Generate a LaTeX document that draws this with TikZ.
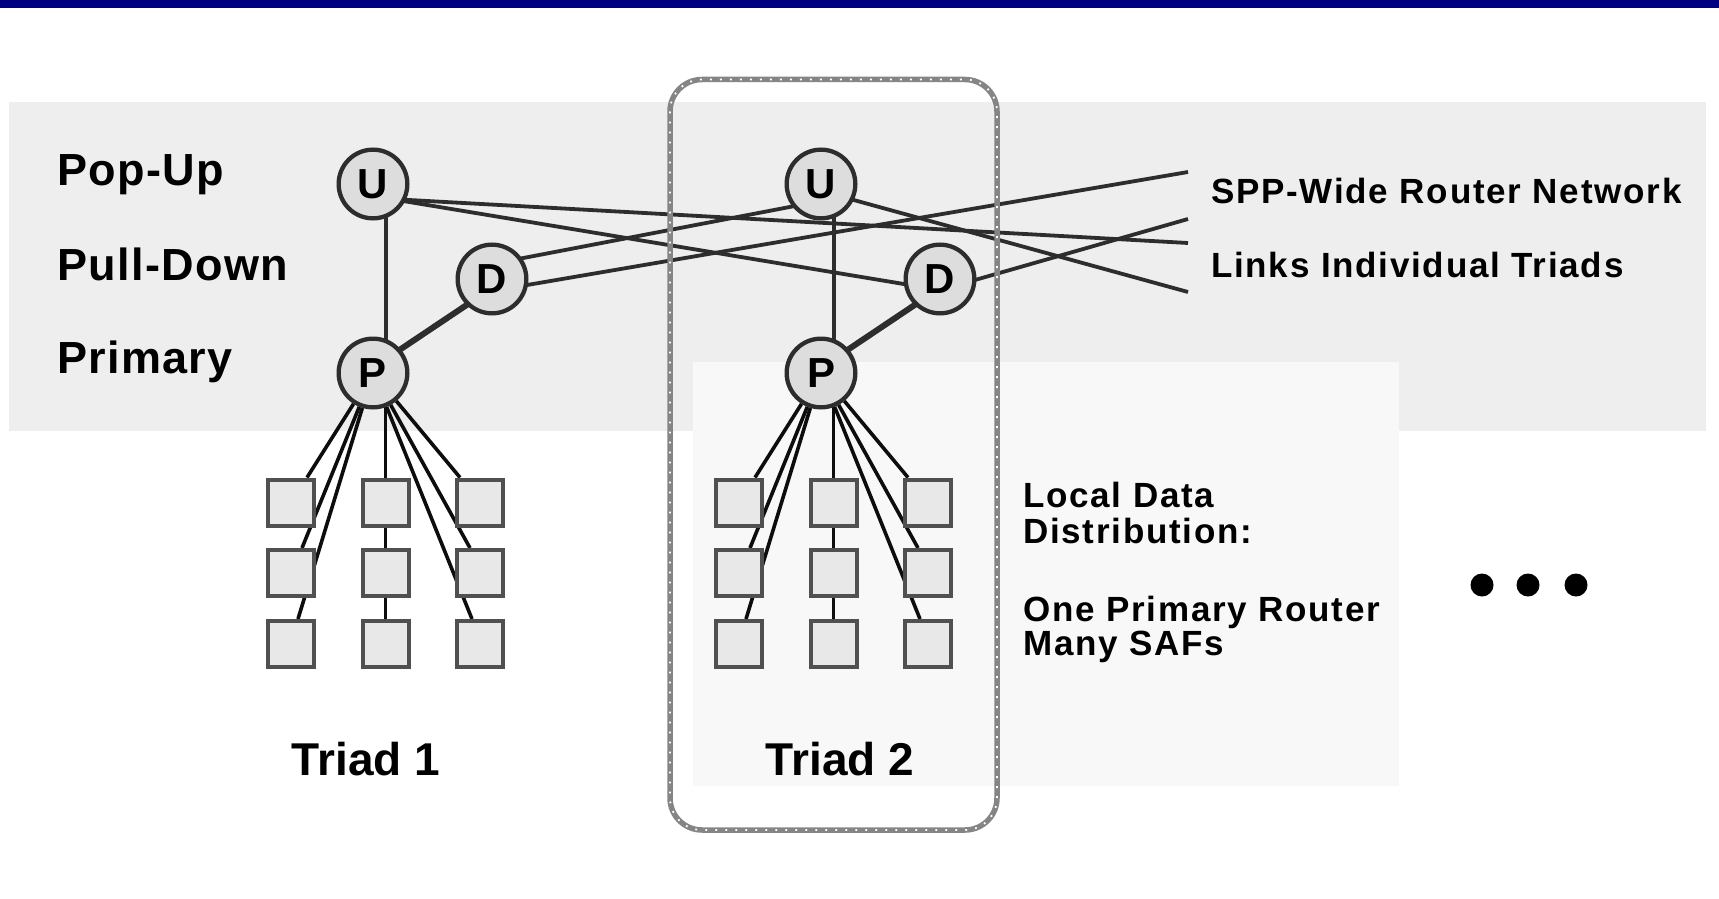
\documentclass[tikz,border=0pt]{standalone}
\usepackage{fontspec}
\setmainfont{Liberation Sans}
\newfontfamily\spacedfont[LetterSpace=5]{Liberation Sans}
\newfontfamily\labfont[LetterSpace=3]{Liberation Sans}
\usetikzlibrary{calc}
\pgfdeclarelayer{bg}
\pgfdeclarelayer{edges}
\pgfsetlayers{bg,edges,main}

\definecolor{navybar}{RGB}{0,0,128}
\definecolor{bandgray}{RGB}{238,238,238}
\definecolor{lightbox}{RGB}{248,248,248}
\definecolor{circfill}{RGB}{221,221,221}
\definecolor{sqfill}{RGB}{232,232,232}
\definecolor{sqgray}{RGB}{80,80,80}
\definecolor{edgecol}{RGB}{45,45,45}
\definecolor{dashgray}{RGB}{133,133,133}

\tikzset{
  router/.style={circle, draw=edgecol, line width=4.3pt, fill=circfill,
    minimum size=68.7pt, inner sep=0pt, font=\bfseries\fontsize{42}{42}\selectfont},
  saf/.style={rectangle, draw=sqgray, line width=4pt, fill=sqfill,
    minimum size=46pt, inner sep=0pt},
  netlink/.style={draw=edgecol, line width=3.8pt},
  uplink/.style={draw=edgecol, line width=4.6pt},
  dplink/.style={draw=edgecol, line width=6pt},
  saflink/.style={draw=black!95, line width=3.6pt},
  layerlabel/.style={anchor=base west, inner sep=0pt, font=\labfont\bfseries\fontsize{45}{45}\selectfont},
  sidetext/.style={anchor=base west, inner sep=0pt, font=\spacedfont\bfseries\fontsize{35}{35}\selectfont},
  triadlabel/.style={anchor=base, inner sep=0pt, font=\bfseries\fontsize{46}{46}\selectfont},
  dashframe/.style={draw=dashgray, line width=5.5pt, rounded corners=32pt},
  dashdots/.style={draw=white, line width=1.8pt, dash pattern=on 1.8pt off 8.2pt, rounded corners=32pt}
}

\newcommand\drawtriad[2]{%
  \node[router] (U#1) at (373+#2,184) {U};
  \node[router] (D#1) at (492+#2,279) {D};
  \node[router] (P#1) at (373+#2,373) {P};
  \node[saf] (sq#111) at (291+#2,502.5) {};
  \node[saf] (sq#112) at (291+#2,573) {};
  \node[saf] (sq#113) at (291+#2,644) {};
  \node[saf] (sq#121) at (385.5+#2,502.5) {};
  \node[saf] (sq#122) at (385.5+#2,573) {};
  \node[saf] (sq#123) at (385.5+#2,644) {};
  \node[saf] (sq#131) at (480+#2,502.5) {};
  \node[saf] (sq#132) at (480+#2,573) {};
  \node[saf] (sq#133) at (480+#2,644) {};
  \begin{pgfonlayer}{edges}
    \draw[uplink] ($(U#1)+(13,0)$) -- ($(P#1)+(13,0)$);
    \draw[dplink] ($(P#1)+(13,-14)$) -- ($(D#1)+(0,9)$);
    \draw[saflink] (P#1) -- ($(sq#111.north)+(16,0)$);
    \draw[saflink] (P#1) -- ($(sq#112.north)+(11,0)$);
    \draw[saflink] (P#1) -- ($(sq#113.north)+(7,0)$);
    \draw[saflink] (P#1) -- ($(sq#131.north)+(-20,0)$);
    \draw[saflink] (P#1) -- ($(sq#132.north)+(-10,0)$);
    \draw[saflink] (P#1) -- ($(sq#133.north)+(-8,0)$);
    \draw[saflink] (sq#121.north) -- (sq#121.north |- P#1);
    \draw[saflink] (sq#121.south) -- (sq#122.north);
    \draw[saflink] (sq#122.south) -- (sq#123.north);
  \end{pgfonlayer}
}

\begin{document}
\begin{tikzpicture}[x=1pt,y=-1pt]
\useasboundingbox (0,0) rectangle (1719,899);
\begin{pgfonlayer}{bg}
  \fill[white] (0,0) rectangle (1719,899);
  \fill[navybar] (0,0) rectangle (1719,8);
  \fill[bandgray] (9,102) rectangle (1706,431);
  \fill[lightbox] (693,362) rectangle (1399,786);
\end{pgfonlayer}

\drawtriad{1}{0}
\drawtriad{2}{448}

\coordinate (e1) at (1188,172);
\coordinate (e2) at (1188,219);
\coordinate (e3) at (1188,243);
\coordinate (e4) at (1188,292);

\begin{pgfonlayer}{edges}
  \draw[netlink] ($(U1)+(0,14)$) -- (e3);
  \draw[netlink] ($(U1)+(0,12)$) -- ($(D2)+(0,11)$);
  \draw[netlink] ($(D1)+(0,-15)$) -- ($(U2)+(0,17)$);
  \draw[netlink] ($(D1)+(0,12)$) -- (e1);
  \draw[netlink] ($(U2)+(0,7)$) -- (e4);
  \draw[netlink] ($(D2)+(0,11)$) -- (e2);
  \draw[dashframe] (670,79.5) rectangle (997,830);
  \draw[dashdots] (670,79.5) rectangle (997,830);
\end{pgfonlayer}

\node[layerlabel] (lpop) at (57,185) {Pop-Up};
\node[layerlabel] (lpull) at (57,280) {Pull-Down};
\node[layerlabel] (lprim) at (57,373) {Primary};

\node[sidetext] (tspp) at (1211,203) {SPP-Wide Router Network};
\node[sidetext] (tlinks) at (1211,277) {Links Individual Triads};

\node[sidetext] (tloc1) at (1023,507) {Local Data};
\node[sidetext] (tloc2) at (1023,543) {Distribution:};
\node[sidetext] (tone) at (1023,621) {One Primary Router};
\node[sidetext] (tmany) at (1023,655) {Many SAFs};

\node[triadlabel] (tr1) at (366,775) {Triad 1};
\node[triadlabel] (tr2) at (840,775) {Triad 2};

\fill (1482,585) circle (11.5);
\fill (1528,585) circle (11.5);
\fill (1576,585) circle (11.5);
\end{tikzpicture}
\end{document}
